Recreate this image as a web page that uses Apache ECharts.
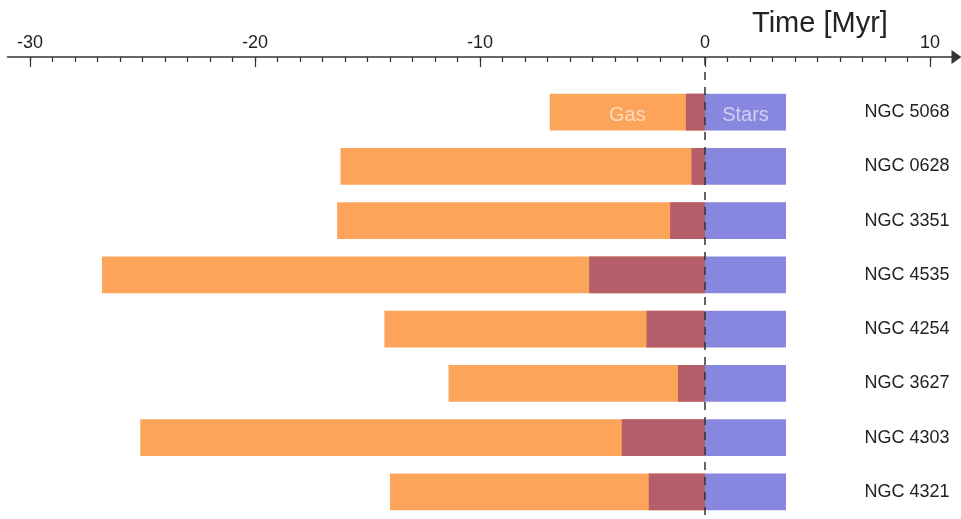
<!DOCTYPE html>
<html>
<head>
<meta charset="utf-8">
<script src="https://cdn.jsdelivr.net/npm/echarts@6/dist/echarts.min.js"></script>
<style>
  html, body { margin: 0; padding: 0; background: #fff; }
  #chart { width: 961px; height: 519px; }
</style>
</head>
<body>
<div id="chart"></div>
<script>
// Galaxies, top to bottom
const galaxies = ['NGC 5068', 'NGC 0628', 'NGC 3351', 'NGC 4535', 'NGC 4254', 'NGC 3627', 'NGC 4303', 'NGC 4321'];
// Start of the gas phase (Myr, relative to t = 0)
const gasStart = [-6.9, -16.2, -16.35, -26.8, -14.25, -11.4, -25.1, -14.0];
// Start of the overlap phase where gas and stars coexist (Myr)
const overlapStart = [-0.85, -0.6, -1.55, -5.15, -2.6, -1.2, -3.7, -2.5];
// End of the stellar phase (Myr)
const starsEnd = [3.6, 3.6, 3.6, 3.6, 3.6, 3.6, 3.6, 3.6];
// Tick marks on the time axis
const majorTicks = [-30, -20, -10, 0, 10];
const minorTicks = [];
for (let t = -30; t <= 10; t++) minorTicks.push(t);

const FONT = '"Liberation Sans", Arial, sans-serif';
const COL_GAS = '#FCA45A';
const COL_OVERLAP = '#B45E6A';
const COL_STARS = '#8787E0';

const chart = echarts.init(document.getElementById('chart'), null, { renderer: 'canvas' });

const phaseLabel = (text) => ({
  show: true, formatter: text, position: 'inside', offset: [0, 3],
  color: 'rgba(255,255,255,0.6)', fontSize: 20, fontFamily: FONT
});
const gasData = gasStart.map((v, i) => i === 0 ? { value: v, label: phaseLabel('Gas') } : v);
const starsData = starsEnd.map((v, i) => i === 0 ? { value: v, label: phaseLabel('Stars') } : v);

chart.setOption({
  animation: false,
  backgroundColor: '#fff',
  title: {
    text: 'Time [Myr]',
    left: 752,
    top: 9,
    padding: 0,
    textStyle: { fontFamily: FONT, fontSize: 29, fontWeight: 'normal', color: '#222' }
  },
  grid: { left: 7.5, right: 8.5, top: 85, bottom: 0, containLabel: false },
  xAxis: [
    {
      type: 'value',
      position: 'top',
      offset: 28,
      min: -31,
      max: 11,
      splitLine: { show: false },
      axisLine: {
        show: true,
        lineStyle: { color: '#333', width: 1.5 },
        symbol: ['none', 'triangle'],
        symbolSize: [14, 10],
        symbolOffset: [0, 4]
      },
      axisTick: { show: true, inside: true, length: 10, customValues: majorTicks, lineStyle: { color: '#333', width: 1.2 } },
      axisLabel: { show: true, customValues: majorTicks, margin: 5, fontSize: 18, fontFamily: FONT, color: '#222' }
    },
    {
      type: 'value',
      position: 'top',
      offset: 28,
      min: -31,
      max: 11,
      splitLine: { show: false },
      axisLine: { show: false },
      axisTick: { show: true, inside: true, length: 5, customValues: minorTicks, lineStyle: { color: '#333', width: 1.2 } },
      axisLabel: { show: false }
    }
  ],
  yAxis: {
    type: 'category',
    data: galaxies,
    inverse: true,
    position: 'right',
    axisLine: { show: false },
    axisTick: { show: false },
    splitLine: { show: false },
    axisLabel: { inside: true, margin: 3, padding: [5, 0, 0, 0], fontSize: 18, fontFamily: FONT, color: '#222' }
  },
  series: [
    {
      name: 'Gas',
      type: 'bar',
      xAxisIndex: 0,
      barWidth: '68%',
      barGap: '-100%',
      data: gasData,
      itemStyle: { color: COL_GAS },
      z: 2
    },
    {
      name: 'Overlap',
      type: 'bar',
      xAxisIndex: 0,
      barWidth: '68%',
      barGap: '-100%',
      data: overlapStart,
      itemStyle: { color: COL_OVERLAP },
      z: 3
    },
    {
      name: 'Stars',
      type: 'bar',
      xAxisIndex: 0,
      barWidth: '68%',
      barGap: '-100%',
      data: starsData,
      itemStyle: { color: COL_STARS },
      z: 3,
      markLine: {
        silent: true,
        symbol: 'none',
        label: { show: false },
        lineStyle: { color: '#333', width: 1.5, type: [8, 7] },
        data: [[{ xAxis: 0, y: 57 }, { xAxis: 0, y: 519 }]],
        z: 10
      }
    }
  ]
});
</script>
</body>
</html>
